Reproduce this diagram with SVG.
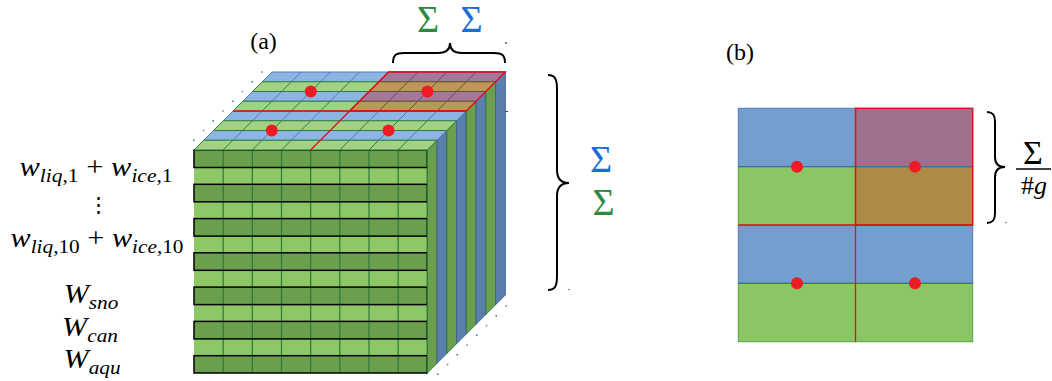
<svg xmlns="http://www.w3.org/2000/svg" width="1052" height="381" viewBox="0 0 1052 381">
<style>
.m{font-family:'Liberation Serif','Times New Roman',Times,'DejaVu Serif','Noto Serif',serif;font-size:27px;fill:#000}
.i{font-style:italic}
.s{font-size:19px}
.lab{font-family:'Liberation Serif','Times New Roman',Times,'DejaVu Serif',serif;font-size:24px;fill:#000}
.sg{font-family:'Liberation Serif','Times New Roman',Times,'DejaVu Serif',serif;font-size:38px}
.gs{fill:#2D8A3E}
.bs{fill:#1A6FD6}
.br{fill:none;stroke:#000;stroke-width:2}
#top-face *,#right-face *{vector-effect:non-scaling-stroke}
.tb{fill:#8EB4E3;stroke:#4B7CC0;stroke-width:1}
.tg{fill:#A3D183;stroke:#2A7F3C;stroke-width:1}
.tp{fill:#A5789A;stroke:#6C4A78;stroke-width:1}
.tn{fill:#BD9658;stroke:#5C5A2C;stroke-width:1}
.rg{fill:#6B9F4D;stroke:#2A7A3A;stroke-width:1}
.rb{fill:#5B7FAB;stroke:#3D6494;stroke-width:1}
.red{fill:none;stroke:#E0101C;stroke-width:1.3}
.dot{fill:#ED1C24}
.sk{fill:#5B87C4}
.skg{fill:#2E8B4A}
</style>

<g id="panel-a-label"><text class="lab" x="263.5" y="49" text-anchor="middle">(a)</text></g>

<g id="front-face">
  <rect x="194" y="150" width="233.3" height="223" fill="#8DC766"/>
  <g fill="#6B9F4D">
    <rect x="194" y="150" width="233.3" height="17.5"/>
    <rect x="194" y="184.3" width="233.3" height="17.5"/>
    <rect x="194" y="218.6" width="233.3" height="17.5"/>
    <rect x="194" y="252.8" width="233.3" height="17.5"/>
    <rect x="194" y="287.1" width="233.3" height="17.5"/>
    <rect x="194" y="321.4" width="233.3" height="17.5"/>
    <rect x="194" y="355.7" width="233.3" height="17.3"/>
  </g>
  <path d="M223.16 150V373M252.33 150V373M281.49 150V373M310.65 150V373M339.81 150V373M368.98 150V373M398.14 150V373M427.3 150V373" stroke="#2A7A3A" stroke-width="1.2" fill="none"/>
  <g fill="none" stroke="#000" stroke-width="1.5">
    <rect x="194" y="150" width="233.3" height="17.5"/>
    <rect x="194" y="184.3" width="233.3" height="17.5"/>
    <rect x="194" y="218.6" width="233.3" height="17.5"/>
    <rect x="194" y="252.8" width="233.3" height="17.5"/>
    <rect x="194" y="287.1" width="233.3" height="17.5"/>
    <rect x="194" y="321.4" width="233.3" height="17.5"/>
    <rect x="194" y="355.7" width="233.3" height="17.3"/>
  </g>
</g>

<g id="right-face" transform="matrix(9.75 -9.75 0 223 427.3 150)">
  <rect class="rg" x="0" y="0" width="1" height="1"/>
  <rect class="rb" x="1" y="0" width="1" height="1"/>
  <rect class="rg" x="2" y="0" width="1" height="1"/>
  <rect class="rb" x="3" y="0" width="1" height="1"/>
  <rect class="rg" x="4" y="0" width="1" height="1"/>
  <rect class="rb" x="5" y="0" width="1" height="1"/>
  <rect class="rg" x="6" y="0" width="1" height="1"/>
  <rect class="rb" x="7" y="0" width="1" height="1"/>
</g>

<g id="top-face" transform="matrix(29.1625 0 -9.75 9.75 272 72)">
  <rect class="tb" x="0" y="0" width="8" height="1"/>
  <rect class="tb" x="0" y="2" width="8" height="1"/>
  <rect class="tb" x="0" y="4" width="8" height="1"/>
  <rect class="tb" x="0" y="6" width="8" height="1"/>
  <rect class="tg" x="0" y="1" width="8" height="1"/>
  <rect class="tg" x="0" y="3" width="8" height="1"/>
  <rect class="tg" x="0" y="5" width="8" height="1"/>
  <rect class="tg" x="0" y="7" width="8" height="1"/>
  <rect class="tp" x="4" y="0" width="4" height="1"/>
  <rect class="tp" x="4" y="2" width="4" height="1"/>
  <rect class="tn" x="4" y="1" width="4" height="1"/>
  <rect class="tn" x="4" y="3" width="4" height="1"/>
  <path fill="none" stroke="#4B7CC0" stroke-width="1" d="M1 0V1M2 0V1M3 0V1M1 2V3M2 2V3M3 2V3M1 4V5M2 4V5M3 4V5M5 4V5M6 4V5M7 4V5M1 6V7M2 6V7M3 6V7M5 6V7M6 6V7M7 6V7"/>
  <path fill="none" stroke="#2A7F3C" stroke-width="1" d="M1 1V2M2 1V2M3 1V2M1 3V4M2 3V4M3 3V4M1 5V6M2 5V6M3 5V6M5 5V6M6 5V6M7 5V6M1 7V8M2 7V8M3 7V8M5 7V8M6 7V8M7 7V8"/>
  <path fill="none" stroke="#6C4A78" stroke-width="1" d="M5 0V1M6 0V1M7 0V1M5 2V3M6 2V3M7 2V3"/>
  <path fill="none" stroke="#5C5A2C" stroke-width="1" d="M5 1V2M6 1V2M7 1V2M5 3V4M6 3V4M7 3V4"/>
  <path class="red" d="M0 4H8M4 0V8"/>
  <rect class="red" x="4" y="0" width="4" height="4"/>
</g>

<g id="top-dots">
  <circle class="dot" cx="310.8" cy="91.5" r="6"/>
  <circle class="dot" cx="427.4" cy="91.5" r="6"/>
  <circle class="dot" cx="271.8" cy="130.5" r="6"/>
  <circle class="dot" cx="388.5" cy="130.5" r="6"/>
</g>

<g id="specks">
  <rect class="sk" x="261.3" y="71.3" width="1.5" height="1.5"/>
  <rect class="skg" x="251.5" y="81" width="1.5" height="1.5"/>
  <rect class="sk" x="241.8" y="90.8" width="1.5" height="1.5"/>
  <rect class="skg" x="232" y="100.5" width="1.5" height="1.5"/>
  <rect class="sk" x="222.3" y="110.3" width="1.5" height="1.5"/>
  <rect class="skg" x="212.5" y="120" width="1.5" height="1.5"/>
  <rect class="sk" x="202.8" y="129.8" width="1.5" height="1.5"/>
  <rect class="skg" x="193" y="139.5" width="1.5" height="1.5"/>
  <rect class="sk" x="505.3" y="305.3" width="1.5" height="1.5"/>
  <rect class="skg" x="495.5" y="315" width="1.5" height="1.5"/>
  <rect class="sk" x="485.8" y="324.8" width="1.5" height="1.5"/>
  <rect class="skg" x="476" y="334.5" width="1.5" height="1.5"/>
  <rect class="sk" x="466.3" y="344.3" width="1.5" height="1.5"/>
  <rect class="skg" x="456.5" y="354" width="1.5" height="1.5"/>
  <rect class="sk" x="446.8" y="363.8" width="1.5" height="1.5"/>
  <rect class="skg" x="437" y="373.5" width="1.5" height="1.5"/>
  <line x1="505" y1="111.5" x2="508" y2="111.5" stroke="#E0101C" stroke-width="1"/>
  <circle cx="506" cy="43" r="0.9" fill="#444"/>
  <circle cx="569" cy="289.5" r="0.8" fill="#666"/>
  <circle cx="1006" cy="222.5" r="0.8" fill="#666"/>
</g>

<g id="brace-top">
  <path class="br" d="M393 63C393 55 396 53 404 53L438 53C446 53 450 50 450 43C450 50 454 53 462 53L494 53C502 53 505 55 505 63"/>
  <text class="sg gs" x="428" y="32" text-anchor="middle">Σ</text>
  <text class="sg bs" x="471.5" y="32" text-anchor="middle">Σ</text>
</g>

<g id="brace-right">
  <path class="br" d="M548 75C555 75 557 79 557 89L557 170C557 179 561 183 569 183C561 183 557 187 557 196L557 276C557 286 555 290 548 290"/>
  <text class="sg bs" x="601" y="172" text-anchor="middle">Σ</text>
  <text class="sg gs" x="603.5" y="215" text-anchor="middle">Σ</text>
</g>

<g id="labels">
  <text class="m" transform="translate(96,176) scale(1.13,1)" text-anchor="middle"><tspan class="i">w</tspan><tspan class="s" dy="6"><tspan class="i">liq</tspan>,1</tspan><tspan dy="-6"> + </tspan><tspan class="i">w</tspan><tspan class="s" dy="6"><tspan class="i">ice</tspan>,1</tspan></text>
  <text class="m" x="98" y="212" text-anchor="middle" style="font-size:21px">⋮</text>
  <text class="m" transform="translate(97,247) scale(1.12,1)" text-anchor="middle"><tspan class="i">w</tspan><tspan class="s" dy="6"><tspan class="i">liq</tspan>,10</tspan><tspan dy="-6"> + </tspan><tspan class="i">w</tspan><tspan class="s" dy="6"><tspan class="i">ice</tspan>,10</tspan></text>
  <text class="m" transform="translate(91,303) scale(1.12,1)" text-anchor="middle"><tspan class="i">W</tspan><tspan class="s i" dy="6">sno</tspan></text>
  <text class="m" transform="translate(90,336) scale(1.12,1)" text-anchor="middle"><tspan class="i">W</tspan><tspan class="s i" dy="6">can</tspan></text>
  <text class="m" transform="translate(92,368) scale(1.12,1)" text-anchor="middle"><tspan class="i">W</tspan><tspan class="s i" dy="6">aqu</tspan></text>
</g>

<g id="panel-b-label"><text class="lab" x="740" y="60" text-anchor="middle">(b)</text></g>

<g id="panel-b-grid">
  <rect x="738.3" y="108.3" width="117.2" height="58.4" fill="#729FCF" stroke="#4F7BB0" stroke-width="1"/>
  <rect x="738.3" y="225" width="117.2" height="58.3" fill="#729FCF" stroke="#4F7BB0" stroke-width="1"/>
  <rect x="855.5" y="225" width="117.2" height="58.3" fill="#729FCF" stroke="#4F7BB0" stroke-width="1"/>
  <rect x="738.3" y="166.7" width="117.2" height="58.3" fill="#8BC664" stroke="#5DA04A" stroke-width="1"/>
  <rect x="738.3" y="283.3" width="117.2" height="58.4" fill="#8BC664" stroke="#5DA04A" stroke-width="1"/>
  <rect x="855.5" y="283.3" width="117.2" height="58.4" fill="#8BC664" stroke="#5DA04A" stroke-width="1"/>
  <rect x="855.5" y="108.3" width="117.2" height="58.4" fill="#9E708C" stroke="#7A5A7A" stroke-width="1"/>
  <rect x="855.5" y="166.7" width="117.2" height="58.3" fill="#AD8A45" stroke="#7D6A3A" stroke-width="1"/>
  <line x1="738.3" y1="166.7" x2="972.7" y2="166.7" stroke="#3F6F9F" stroke-width="1.2"/>
  <line x1="738.3" y1="283.3" x2="972.7" y2="283.3" stroke="#3F6F9F" stroke-width="1.2"/>
  <path class="red" d="M855.5 108.3V341.7M738.3 225H972.7"/>
  <rect class="red" x="855.5" y="108.3" width="117.2" height="116.7"/>
  <circle class="dot" cx="797" cy="166.7" r="6"/>
  <circle class="dot" cx="915" cy="166.7" r="6"/>
  <circle class="dot" cx="797" cy="283.3" r="6"/>
  <circle class="dot" cx="915" cy="283.3" r="6"/>
</g>

<g id="brace-b">
  <path class="br" d="M987 112C993 112 995 115 995 122L995 157C995 164 998 167 1005 167C998 167 995 170 995 177L995 213C995 220 993 223 987 223"/>
  <text class="m" x="1033" y="164" text-anchor="middle" style="font-size:34px">Σ</text>
  <line x1="1016" y1="169" x2="1051" y2="169" stroke="#000" stroke-width="1.3"/>
  <text class="m" x="1034" y="194" text-anchor="middle" style="font-size:26px">#<tspan class="i">g</tspan></text>
</g>
</svg>
